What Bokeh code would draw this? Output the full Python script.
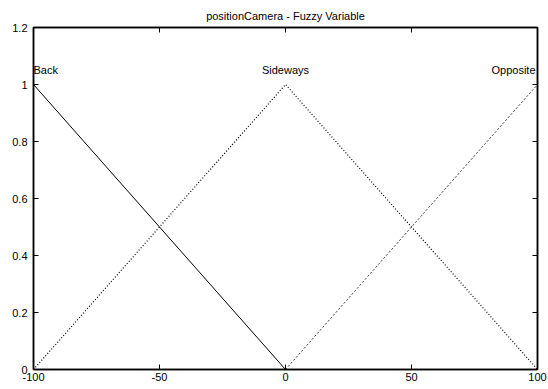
from bokeh.plotting import figure
from bokeh.models import LinearAxis, FixedTicker, CustomJSTickFormatter, Range1d, ColumnDataSource
from bokeh.core.properties import value
from bokeh.embed import file_html
from bokeh.resources import INLINE

# Data
back_x = [-100, 0]
back_y = [1, 0]
side_x = [-100, 0, 100]
side_y = [0, 1, 0]
opp_x = [0, 100]
opp_y = [0, 1]

label_names = ["Back", "Sideways", "Opposite"]
label_x = [-100, 0, 100]
label_y = [1.05, 1.05, 1.05]
label_align = ["left", "center", "right"]

x_ticks = [-100, -50, 0, 50, 100]
y_ticks = [0, 0.2, 0.4, 0.6, 0.8, 1.0, 1.2]

FONT = "Liberation Sans"

p = figure(width=548, height=389, output_backend="svg", toolbar_location=None,
           x_range=Range1d(-100, 100), y_range=Range1d(0, 1.2),
           title="positionCamera - Fuzzy Variable",
           min_border_left=33, min_border_right=11, min_border_top=27, min_border_bottom=20,
           x_axis_type=None, y_axis_type=None)

p.title.align = "center"
p.title.text_font = FONT
p.title.text_font_size = "11px"
p.title.text_font_style = "normal"
p.title.text_color = "black"
p.title.standoff = 12

p.grid.visible = False
p.outline_line_color = "black"
p.outline_line_width = 1.5
p.background_fill_color = "white"
p.border_fill_color = "white"

fmt = CustomJSTickFormatter(code="return String(Math.round(tick*10)/10);")

def make_axis(ticks, show_labels, standoff):
    ax = LinearAxis(ticker=FixedTicker(ticks=ticks), formatter=fmt)
    ax.major_tick_in = 5
    ax.major_tick_out = 0
    ax.minor_tick_line_color = None
    ax.major_tick_line_color = "black"
    ax.axis_line_color = "black"
    ax.axis_line_width = 1.5
    ax.major_label_text_font = FONT
    if show_labels:
        ax.major_label_text_color = "black"
        ax.major_label_text_font_size = "11px"
        ax.major_label_standoff = standoff
    else:
        ax.major_label_text_color = None
        ax.major_label_text_font_size = "1px"
        ax.major_label_standoff = 0
    return ax

p.add_layout(make_axis(x_ticks, True, 3), "below")
p.add_layout(make_axis(y_ticks, True, 6), "left")
p.add_layout(make_axis(x_ticks, False, 0), "above")
p.add_layout(make_axis(y_ticks, False, 0), "right")

p.line(back_x, back_y, line_color="black", line_width=1)
p.line(side_x, side_y, line_color="black", line_width=1.2, line_dash="1 2")
p.line(opp_x, opp_y, line_color="black", line_width=0.8, line_dash="2 2")

src = ColumnDataSource(dict(x=label_x, y=label_y, t=label_names, a=label_align,
                            dx=[0, 0, -2]))
p.text(x="x", y="y", text="t", text_align="a", source=src, text_baseline="middle",
       x_offset="dx",
       text_font=value(FONT), text_font_size="11px", text_color="black")

open("out.html", "w").write(file_html(p, INLINE))
